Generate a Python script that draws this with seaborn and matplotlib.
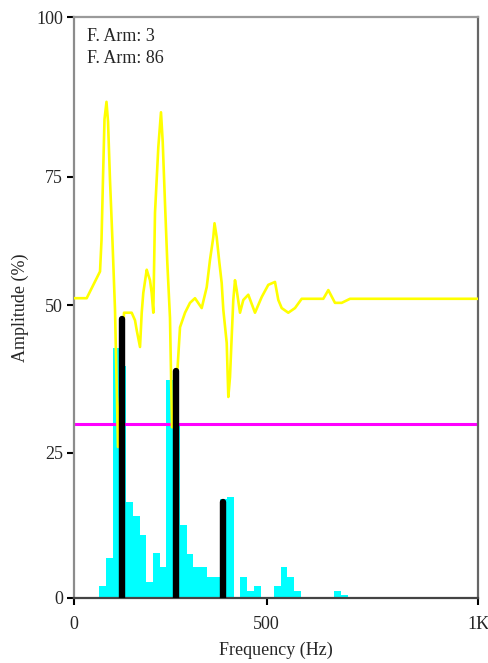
import numpy as np
import pandas as pd
import matplotlib
matplotlib.use("Agg")
import matplotlib.pyplot as plt
import seaborn as sns

# ---- data ----
# spectrum histogram (cyan), one value per bin, bins start at 62.6 Hz, width 16.63
bin_values = [2.1, 6.9, 43.1, 40.0, 16.6, 14.1, 10.8, 2.8, 7.7, 5.3,
              37.5, 30.0, 12.5, 7.6, 5.4, 5.4, 3.7, 3.7, 17.0, 17.3,
              0.0, 3.7, 1.2, 2.1, 0.0, 0.0, 2.1, 5.3, 3.7, 1.2,
              0.0, 0.0, 0.0, 0.0, 0.0, 1.2, 0.5]
bin_left = 62.6
bin_width = 16.63

# yellow trace
trace_freq = [0, 31.4, 64.4, 68.1, 71.8, 75.5, 80.4, 84.2, 89.1, 95.3,
              101.5, 108.9, 123.8, 142.8, 151.0, 155.2, 163.4, 167.6, 171.5, 180.0,
              183.9, 188.1, 192.3, 196.3, 200.5, 208.7, 215.3, 219.6, 225.2, 230.9,
              237.6, 242.6, 247.5, 262.4, 274.8, 287.1, 299.5, 316.1, 328.5, 336.6,
              344.8, 347.8, 353.2, 359.7, 365.6, 369.6, 378.0, 382.0, 386.1, 390.3,
              394.3, 398.5, 402.7, 410.9, 419.1, 431.4, 448.0, 464.6, 480.9, 497.5,
              505.7, 514.1, 530.4, 547.0, 563.6, 617.1, 629.5, 646.0, 662.6, 683.2,
              1000]
trace_amp = [51.6, 51.6, 56.2, 61.6, 72.3, 82.4, 85.4, 82.0, 71.9, 61.3,
             49.6, 26.0, 49.1, 49.1, 47.8, 46.1, 43.2, 49.1, 52.5, 56.5,
             55.6, 54.7, 52.5, 49.1, 66.3, 77.6, 83.6, 78.5, 68.0, 57.8,
             48.2, 29.4, 29.4, 46.6, 49.1, 50.8, 51.6, 49.9, 53.5, 58.2,
             62.1, 64.5, 62.1, 57.8, 54.2, 49.6, 43.9, 34.6, 38.0, 44.9,
             51.3, 54.7, 53.0, 49.1, 51.3, 52.2, 49.1, 51.8, 53.9, 54.4,
             51.3, 49.9, 49.1, 49.9, 51.5, 51.5, 53.0, 50.8, 50.8, 51.5,
             51.5]

# black peak markers
peak_freq = [118.8, 252.5, 368.8]
peak_amp = [48.0, 39.0, 16.5]

threshold = 30.0

legend_lines = ["F. Arm: 3", "F. Arm: 86"]
x_tick_labels = ["0", "500", "1K"]
y_tick_labels = ["0", "25", "50", "75", "100"]
x_label = "Frequency (Hz)"
y_label = "Amplitude (%)"

# ---- styling ----
sns.set_style("white")
plt.rcParams["font.family"] = ["Liberation Serif", "DejaVu Serif"]
FS = 13

fig = plt.figure(figsize=(4.89, 6.63), dpi=100)
ax = fig.add_axes([74 / 489, 1 - 598 / 663, 404 / 489, 581 / 663])

n = len(bin_values)
edges = bin_left + bin_width * np.arange(n + 1)
ax.bar(edges[:-1], bin_values, width=bin_width, align="edge",
       color="#00FFFF", linewidth=0, zorder=1)

ax.axhline(threshold, color="#FF00FF", linewidth=2.2, zorder=2)

trace_df = pd.DataFrame({"freq": trace_freq, "amp": trace_amp})
sns.lineplot(data=trace_df, x="freq", y="amp", color="#FFFF00", linewidth=1.9,
             sort=False, ax=ax, zorder=3)

for f, a in zip(peak_freq, peak_amp):
    ax.plot([f, f], [0, a], color="black", linewidth=4.6,
            solid_capstyle="round", zorder=4)

ax.set_xlim(0, 1000)
ax.set_ylim(0, 100)
ax.set_xticks([0, 477, 1000])
ax.set_xticklabels(x_tick_labels)
ax.set_yticks([0, 25, 50.4, 72.5, 100])
ax.set_yticklabels(y_tick_labels)
ax.tick_params(axis="both", direction="out", length=5, width=1.5,
               color="black", labelsize=FS, pad=3)
ax.tick_params(axis="x", pad=8)
ax.tick_params(left=True, bottom=True)

ax.set_xlabel(x_label, fontsize=FS, labelpad=6)
ax.set_ylabel(y_label, fontsize=FS, labelpad=5)

for side, col in [("left", "#8c8c8c"), ("top", "#9a9a9a"),
                  ("right", "#666666"), ("bottom", "#444444")]:
    ax.spines[side].set_visible(True)
    ax.spines[side].set_color(col)
    ax.spines[side].set_linewidth(1.6)

ax.text(0.032, 0.9587, legend_lines[0], transform=ax.transAxes,
        va="baseline", ha="left", fontsize=FS)
ax.text(0.032, 0.920, legend_lines[1], transform=ax.transAxes,
        va="baseline", ha="left", fontsize=FS)

fig.savefig("out.png", dpi=100)
